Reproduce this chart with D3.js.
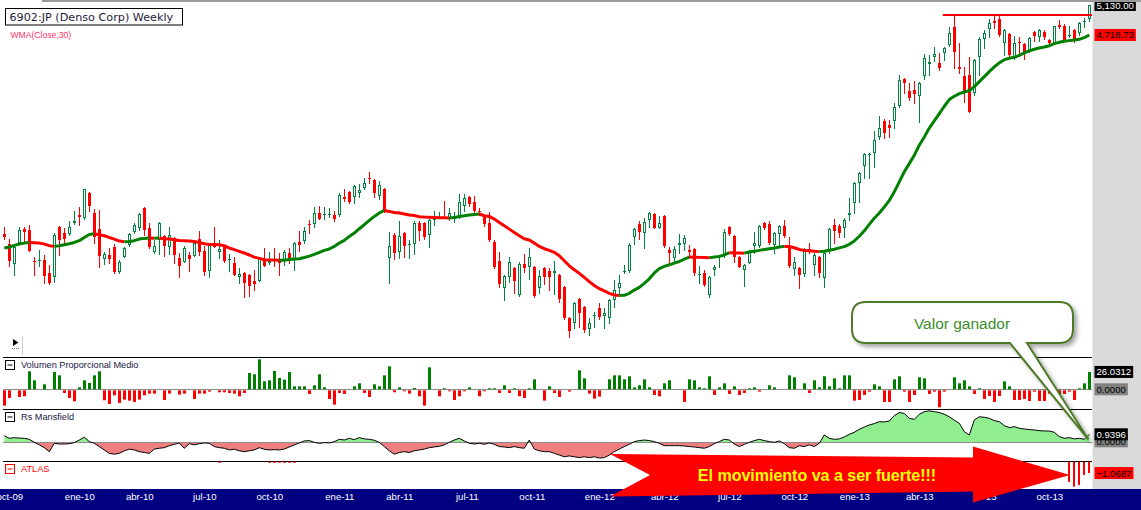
<!DOCTYPE html>
<html>
<head>
<meta charset="utf-8">
<script src="https://cdn.jsdelivr.net/npm/d3@7"></script>
<style>
  html, body { margin: 0; padding: 0; background: #fff; overflow: hidden; }
  svg { display: block; }
</style>
</head>
<body>
<script>
// DATA ––––––––––––––––––––––––––––––––––––––––––––––––––––––––––––––––

// weekly candles, one row per week from oct-09: [open, high, low, close]
var ohlc = [
  [2712,2765,2674,2689],[2637,2674,2480,2515],[2494,2630,2419,2616],[2645,2765,2640,2742],[2750,2765,2652,2727],
  [2742,2781,2585,2587],[2515,2544,2419,2508],[2515,2594,2480,2522],[2522,2558,2366,2412],[2433,2487,2360,2366],
  [2406,2719,2373,2704],[2765,2770,2558,2667],[2719,2757,2630,2674],[2712,2812,2704,2765],[2797,2891,2789,2812],
  [2859,2924,2781,2843],[2835,3074,2828,3074],[3040,3045,2891,2932],[2875,2907,2645,2689],[2750,2899,2473,2551],
  [2529,2580,2494,2565],[2558,2609,2501,2529],[2616,2637,2433,2439],[2439,2522,2433,2508],[2544,2616,2540,2609],
  [2630,2719,2623,2712],[2727,2797,2719,2781],[2757,2875,2742,2867],[2915,2924,2704,2742],[2757,2797,2609,2616],
  [2580,2667,2572,2623],[2667,2800,2565,2797],[2697,2704,2551,2623],[2616,2765,2565,2704],[2682,2689,2501,2558],
  [2536,2572,2406,2480],[2508,2623,2505,2609],[2558,2580,2446,2529],[2551,2652,2548,2645],[2674,2734,2558,2580],
  [2587,2623,2419,2439],[2446,2645,2406,2630],[2630,2765,2612,2616],[2580,2667,2536,2601],[2623,2630,2508,2515],
  [2522,2565,2446,2529],[2501,2544,2415,2419],[2406,2467,2366,2426],[2433,2436,2275,2366],[2419,2422,2281,2346],
  [2379,2453,2320,2360],[2379,2536,2375,2529],[2529,2609,2477,2480],[2501,2580,2494,2515],[2529,2609,2480,2515],
  [2529,2572,2419,2501],[2522,2594,2487,2580],[2572,2609,2501,2536],[2529,2648,2453,2645],[2652,2734,2587,2630],
  [2660,2765,2645,2734],[2789,2820,2719,2781],[2789,2924,2765,2875],[2875,2932,2825,2828],[2863,2924,2828,2867],
  [2863,2915,2843,2867],[2859,2891,2812,2828],[2859,3040,2851,3023],[3006,3074,2973,2990],[3048,3057,2957,2965],
  [3006,3108,2957,3099],[3040,3117,3006,3065],[3082,3170,3074,3126],[3170,3223,3126,3161],[3152,3155,3006,3040],
  [3014,3143,2990,3108],[3074,3077,2883,2891],[2536,2727,2366,2623],[2704,2719,2529,2572],[2580,2812,2536,2697],
  [2719,2727,2544,2623],[2634,2667,2536,2637],[2637,2812,2565,2797],[2797,2812,2667,2734],[2797,2804,2674,2689],
  [2704,2843,2616,2820],[2820,2891,2781,2835],[2839,2883,2835,2843],[2839,2973,2831,2835],[2835,2915,2820,2875],
  [2828,2883,2804,2851],[2843,3031,2835,2965],[2932,3031,2891,2998],[3006,3014,2932,2948],[2965,3014,2875,2891],
  [2887,2915,2859,2883],[2843,2851,2773,2789],[2797,2883,2660,2667],[2652,2667,2467,2473],[2515,2580,2340,2360],
  [2333,2419,2256,2412],[2406,2544,2373,2508],[2467,2473,2301,2379],[2288,2508,2282,2494],[2494,2565,2439,2467],
  [2473,2609,2393,2544],[2473,2480,2275,2282],[2333,2453,2301,2412],[2467,2473,2360,2406],[2446,2467,2320,2406],
  [2433,2515,2294,2446],[2419,2426,2244,2262],[2340,2346,2140,2146],[2146,2150,2036,2070],[2116,2243,2088,2237],
  [2262,2266,2093,2176],[2213,2216,2064,2076],[2082,2146,2047,2116],[2161,2182,2093,2164],[2207,2237,2140,2152],
  [2158,2207,2088,2176],[2146,2262,2116,2256],[2256,2386,2213,2320],[2333,2419,2294,2366],[2439,2487,2433,2443],
  [2446,2645,2439,2630],[2689,2757,2637,2750],[2789,2812,2674,2727],[2719,2835,2609,2804],[2820,2883,2765,2875],
  [2867,2870,2754,2757],[2757,2851,2754,2797],[2851,2855,2616,2623],[2594,2616,2501,2572],[2536,2623,2501,2601],
  [2630,2712,2572,2645],[2637,2704,2594,2682],[2594,2630,2544,2580],[2601,2609,2419,2433],[2422,2480,2366,2426],
  [2433,2453,2346,2353],[2288,2410,2275,2406],[2453,2487,2419,2473],[2548,2558,2473,2551],[2558,2750,2544,2727],
  [2765,2773,2704,2712],[2697,2700,2508,2544],[2544,2548,2470,2473],[2453,2490,2346,2487],[2501,2594,2498,2580],
  [2623,2727,2572,2645],[2623,2781,2616,2773],[2797,2804,2750,2757],[2789,2812,2637,2645],[2630,2722,2572,2719],
  [2712,2781,2616,2773],[2773,2820,2689,2697],[2623,2689,2473,2480],[2460,2544,2419,2508],[2467,2473,2333,2419],
  [2426,2604,2412,2601],[2601,2645,2572,2580],[2487,2572,2419,2558],[2544,2551,2406,2433],[2399,2580,2340,2572],
  [2594,2757,2572,2750],[2781,2828,2645,2734],[2773,2789,2689,2719],[2757,2835,2689,2820],[2859,2998,2820,2875],
  [2957,3130,2875,3126],[3126,3223,2965,3214],[3277,3398,3170,3388],[3384,3398,3170,3388],[3398,3612,3268,3523],
  [3552,3767,3533,3642],[3714,3735,3543,3592],[3673,3724,3552,3642],[3714,3905,3642,3862],[3873,4222,3862,4163],
  [4175,4187,4015,4129],[4038,4129,3938,3960],[4049,4152,3905,4004],[3982,4140,3704,4129],[4210,4476,4175,4427],
  [4353,4463,4222,4378],[4438,4564,4390,4476],[4366,4488,4281,4305],[4488,4564,4402,4551],[4589,4825,4576,4745],
  [4825,4989,4305,4501],[4317,4615,4245,4293],[4210,4317,3915,4027],[4222,4438,3805,3809],[4015,4414,3993,4402],
  [4438,4693,4222,4667],[4667,4785,4551,4745],[4798,4934,4693,4879],[4906,4989,4812,4879],[4934,4989,4706,4719],
  [4615,4798,4463,4785],[4732,4745,4438,4463],[4438,4706,4414,4615],[4628,4693,4451,4615],[4602,4615,4414,4501],
  [4526,4693,4501,4680],[4758,4772,4641,4706],[4693,4798,4641,4785],[4758,4785,4667,4693],[4654,4667,4602,4615],
  [4615,4842,4612,4839],[4852,4920,4812,4825],[4839,4866,4641,4654],[4712,4839,4693,4719],[4785,4798,4628,4654],
  [4745,4893,4719,4879],[4899,4948,4825,4906],[4934,5130,4906,5130]
];

// WMA(Close,30)
var wma = [
  2606,2613,2625,2635,2642,2647,2645,2642,2635,2623,2618,2623,2630,2637,2647,2660,2684,2706,2712,2704,
  2697,2684,2672,2657,2652,2654,2660,2672,2677,2680,2678,2679,2674,2673,2667,2662,2660,2657,2654,2647,
  2637,2632,2631,2630,2623,2606,2594,2582,2570,2556,2541,2532,2522,2521,2520,2518,2519,2524,2527,2529,
  2538,2548,2560,2575,2589,2599,2618,2642,2662,2692,2717,2750,2781,2815,2846,2873,2894,2886,2877,2873,
  2865,2857,2853,2843,2841,2840,2838,2836,2835,2833,2838,2846,2851,2857,2862,2865,2851,2846,2825,2799,
  2773,2747,2721,2697,2674,2665,2642,2618,2601,2589,2575,2551,2515,2480,2453,2428,2401,2373,2348,2327,
  2312,2297,2286,2283,2284,2297,2318,2335,2362,2392,2431,2460,2476,2487,2499,2510,2527,2541,2540,2539,
  2538,2537,2541,2546,2556,2572,2571,2570,2569,2577,2582,2589,2596,2601,2606,2613,2618,2617,2608,2596,
  2589,2587,2582,2580,2583,2590,2597,2607,2616,2633,2658,2693,2734,2783,2832,2873,2921,2976,3048,3134,
  3223,3297,3376,3471,3552,3641,3714,3791,3869,3941,3978,4008,4026,4041,4086,4144,4202,4261,4317,4366,
  4405,4422,4434,4459,4489,4514,4535,4551,4564,4580,4606,4624,4637,4645,4654,4663,4684,4718.73
];

// Volumen Proporcional Medio
var volume = [
  -23,-11.5,0,-10,-9,27,13.5,0,7.5,0,26,21,-4,-11.5,-16.5,3,13.5,9.5,21,27,
  -15,-20.5,-7.5,-19,-14,-15.5,-17.5,-14,-7.5,-5,-5,0,-14.5,-5,0,-6.5,-5,0,-13,-5,
  -5,-2,0,-3,-3,-4,-5,-9,-4,24.5,22.5,45,12,13.5,27.5,17,14.5,26,4.5,4.5,
  4.5,-5.5,6,22.5,3,-13,-21.5,-4,-5.5,0,4.5,9,-4,-10,7.5,4.5,21,34.5,-3,3,
  -1.5,-5,2,-9,-23,33,0,-9,1.5,-1.5,-14.5,-9,-1.5,3,0,-9,-1.5,1.5,1.5,-4,
  6,-4,1.5,-9,-11.5,1.5,15,0,-15.5,4.5,-4,-10,0,-2,0,28.5,16.5,-5,-12.5,-9.5,
  0,15,21,21,15,19.5,3,6,15,3,-7,-9,9,13.5,0,0,-17.5,15,13.5,3,
  1.5,19.5,-7,3,9,-5.5,4.5,-7,-4,1.5,3,-2,0,6,3,0,0,21,18,0,
  9,-4,13.5,3,19.5,4.5,16.5,1.5,21,21,-15.5,-14.5,-7,-2,7.5,4.5,-17.5,-17.5,15,19.5,
  -2,-17.5,-7,18,16.5,-5.5,-2,-25.5,-2,0,18,9,13.5,4.5,-5.5,1.5,-13,-8.5,-17.5,-8.5,
  12,4.5,-14.5,-14.5,-13,-16,-2,-16,-16,-5,-8,-7,-5.5,-2,-14.5,1.5,9,26.0312
];

// Rs Mansfield
var rsMansfield = [
  0.78,0.47,0.55,0.5,0.47,0.35,0,-0.3,-0.63,-1.1,-0.12,-0.2,-0.2,-0.16,-0.04,0.27,0.6,0.08,-0.12,-0.5,
  -0.9,-1.3,-1.4,-1.3,-1.0,-0.8,-0.9,-1.1,-1.2,-1.3,-0.8,-0.7,-0.63,-0.4,-0.24,-0.08,-0.7,-0.16,-0.3,-0.16,
  -0.08,-0.12,-0.5,-0.63,-0.7,-0.9,-0.82,-1.0,-1.1,-1.0,-0.9,-0.63,-0.82,-0.9,-0.86,-0.9,-0.8,-0.55,-0.3,-0.08,
  0.16,0.2,0,-0.12,-0.04,-0.08,0.08,0.35,0.27,0.47,0.31,0.55,0.4,0.35,0.24,0,-0.5,-1.0,-1.4,-1.2,
  -1.1,-1.2,-1.0,-0.9,-0.8,-0.63,-0.55,-0.47,-0.3,0,0.27,0.47,0.16,-0.12,-0.2,-0.12,-0.24,-0.08,-0.24,-0.5,
  -0.55,-0.63,-0.5,-0.63,-0.7,0.27,-0.8,-1.0,-1.1,-1.1,-1.3,-1.5,-1.7,-1.6,-1.7,-1.8,-1.7,-1.8,-1.7,-1.85,
  -1.8,-1.5,-1.1,-0.8,-0.5,-0.24,0.08,0.2,0.27,0.2,0.08,-0.12,-0.4,-0.4,-0.4,-0.4,-0.43,-0.5,-0.55,-0.63,
  -0.7,-0.5,-0.16,0.08,0.35,0.27,-0.2,-0.5,-0.24,0,0.2,0.35,0.2,0.08,0,0.16,-0.16,-0.63,-0.7,-0.4,
  -0.5,-0.3,-0.5,-0.12,0.86,0.47,0.35,0.4,0.63,0.94,1.18,1.53,1.8,2.04,2.2,2.43,2.4,2.5,3.14,3.5,
  3.4,2.82,2.7,3.3,3.6,3.7,3.6,3.5,3.3,3.0,2.6,2.24,1.25,0.86,2.63,3.0,2.94,2.82,2.55,2.43,
  1.96,1.73,1.84,1.65,1.57,1.5,1.45,1.37,1.33,1.33,1.18,0.67,0.47,0.55,0.4,0.47,0.35,0.9396
];

// ATLAS, only the weeks that print a bar: [week, value]
var atlas = [
  [43,-0.08],[53,-0.08],[54,-0.08],[55,-0.08],[56,-0.08],[57,-0.08],[58,-0.08],
  [213,-1.9],[214,-2.35],[215,-2.2],[216,-1.25],[217,-1.0687]
];

var resistance = {price: 4990, fromWeek: 187.7};

var tickLabels = ["oct-09","ene-10","abr-10","jul-10","oct-10","ene-11","abr-11","jul-11","oct-11",
                  "ene-12","abr-12","jul-12","oct-12","ene-13","abr-13","jul-13","oct-13"];
var tickWeeks  = [1,15,27,40,53,67,79,92.5,105.5,119,132,145,158,170,183,196,209];

// SETUP ––––––––––––––––––––––––––––––––––––––––––––––––––––––––––––––

var W = 1141, H = 510,
    plotRight = 1092,
    UP = "#00843f", DOWN = "#ff0000", MA_UP = "#008000",
    FONT = "'Liberation Sans', Arial, sans-serif";

var svg = d3.select("body").append("svg")
    .attr("width", W).attr("height", H)
    .style("font-family", FONT);

var defs = svg.append("defs");
defs.append("clipPath").attr("id", "clipMain")
  .append("rect").attr("x", 0).attr("y", 0).attr("width", plotRight).attr("height", 357);
defs.append("clipPath").attr("id", "clipRsUp")
  .append("rect").attr("x", 0).attr("y", 410).attr("width", plotRight);
defs.append("clipPath").attr("id", "clipRsDown")
  .append("rect").attr("x", 0).attr("width", plotRight).attr("height", 30);
var shadow = defs.append("filter").attr("id", "shadow")
    .attr("x", "-10%").attr("y", "-10%").attr("width", "130%").attr("height", "140%");
shadow.append("feDropShadow").attr("dx", 3).attr("dy", 3).attr("stdDeviation", 2)
    .attr("flood-color", "#000").attr("flood-opacity", 0.35);

var x = d3.scaleLinear().domain([0, ohlc.length - 1]).range([4.3, 1089.3]);
var yPrice = d3.scaleLog().domain([2000, 5300]).range([343, -6.7]);
var yVol = d3.scaleLinear().domain([-30, 45]).range([409.3, 359.3]);
var yRs = d3.scaleLinear().domain([-2.2, 3.9]).range([461, 409.15]);
var yAtlas = d3.scaleLinear().domain([-2.6, 0]).range([489.3, 461.7]);

// MAIN PANEL ––––––––––––––––––––––––––––––––––––––––––––––––––––––––––

var gMain = svg.append("g").attr("clip-path", "url(#clipMain)");

ohlc.forEach(function(d, i) {
  var o = d[0], h = d[1], l = d[2], c = d[3],
      up = c >= o,
      cx = Math.round(x(i)),
      top = Math.round(yPrice(Math.max(o, c))),
      bot = Math.round(yPrice(Math.min(o, c)));

  gMain.append("line")
    .attr("x1", cx + 0.5).attr("x2", cx + 0.5)
    .attr("y1", Math.round(yPrice(h))).attr("y2", Math.round(yPrice(l)) + 1)
    .attr("stroke", up ? UP : DOWN);

  if (up && bot - top >= 2) {
    gMain.append("rect")
      .attr("x", cx - 0.5).attr("y", top + 0.5)
      .attr("width", 2).attr("height", bot - top - 1)
      .attr("fill", "#fff").attr("stroke", UP);
  } else {
    gMain.append("rect")
      .attr("x", cx - 1).attr("y", top)
      .attr("width", 3).attr("height", Math.max(bot - top, 1))
      .attr("fill", up ? UP : DOWN);
  }
});

// WMA coloured by direction
var runs = [];
for (var i = 1; i < wma.length; i++) {
  var rising = wma[i] >= wma[i - 1];
  if (!runs.length || runs[runs.length - 1].up !== rising) runs.push({up: rising, pts: [i - 1]});
  runs[runs.length - 1].pts.push(i);
}
var maLine = d3.line().x(function(k) { return x(k); }).y(function(k) { return yPrice(wma[k]); });
runs.forEach(function(r) {
  gMain.append("path").datum(r.pts)
    .attr("fill", "none")
    .attr("stroke", r.up ? MA_UP : DOWN)
    .attr("stroke-width", 3)
    .attr("stroke-linejoin", "round")
    .attr("d", maLine);
});

// resistance
gMain.append("line")
  .attr("x1", x(resistance.fromWeek)).attr("x2", plotRight)
  .attr("y1", yPrice(resistance.price)).attr("y2", yPrice(resistance.price))
  .attr("stroke", "#ff0000").attr("stroke-width", 2);

// title box
svg.append("rect").attr("x", 5.5).attr("y", 8.5).attr("width", 177).attr("height", 16.5)
  .attr("fill", "#fff").attr("stroke", "#000");
svg.append("text").attr("x", 9.5).attr("y", 20.5)
  .style("font-family", "'DejaVu Sans', Verdana, sans-serif").style("font-size", "11.2px")
  .attr("fill", "#1c1c3c").text("6902:JP (Denso Corp) Weekly");
svg.append("text").attr("x", 10.5).attr("y", 38)
  .style("font-size", "8.6px").attr("fill", "#ff3366").text("WMA(Close,30)");

// little play glyph bottom-left
svg.append("path").attr("d", "M13,339 L13,346 L18.5,342.5 Z").attr("fill", "#000");
svg.append("line").attr("x1", 12).attr("x2", 20).attr("y1", 348.5).attr("y2", 348.5)
  .attr("stroke", "#777").attr("stroke-dasharray", "1,1");
svg.append("line").attr("x1", 22.5).attr("x2", 22.5).attr("y1", 336).attr("y2", 355)
  .attr("stroke", "#d0d0d0");

// PANELS ––––––––––––––––––––––––––––––––––––––––––––––––––––––––––––––

[357.5, 409.5, 461.5].forEach(function(y) {
  svg.append("line").attr("x1", 3).attr("x2", plotRight).attr("y1", y).attr("y2", y)
    .attr("stroke", "#000");
});

var panelHeader = function(y, label, color) {
  svg.append("rect").attr("x", 5.5).attr("y", y - 7.5).attr("width", 9).attr("height", 9)
    .attr("fill", "#fff").attr("stroke", color);
  svg.append("line").attr("x1", 7.5).attr("x2", 12.5).attr("y1", y - 3).attr("y2", y - 3)
    .attr("stroke", color);
  svg.append("text").attr("x", 21).attr("y", y)
    .style("font-size", "9.2px").attr("fill", color === "#000" ? "#1a1a48" : color).text(label);
};

// volume
svg.append("line").attr("x1", 3).attr("x2", plotRight)
  .attr("y1", Math.round(yVol(0)) + 0.5).attr("y2", Math.round(yVol(0)) + 0.5)
  .attr("stroke", "#8c8c8c");
svg.append("g").selectAll("rect").data(volume).join("rect")
  .attr("x", function(d, i) { return Math.round(x(i)) - 1; })
  .attr("width", 3)
  .attr("y", function(d) { return d >= 0 ? yVol(d) : yVol(0) + 1; })
  .attr("height", function(d) { return Math.abs(yVol(d) - yVol(0)); })
  .attr("fill", function(d) { return d >= 0 ? "#008000" : "#ff0000"; });
panelHeader(368, "Volumen Proporcional Medio", "#000");

// rs mansfield
var z = yRs(0);
d3.select("#clipRsUp rect").attr("height", z - 410);
d3.select("#clipRsDown rect").attr("y", z);
var rsArea = d3.area().x(function(d, i) { return x(i); }).y0(z).y1(function(d) { return yRs(d); });
svg.append("path").datum(rsMansfield).attr("d", rsArea).attr("fill", "#90ee90")
  .attr("clip-path", "url(#clipRsUp)");
svg.append("path").datum(rsMansfield).attr("d", rsArea).attr("fill", "#f08080")
  .attr("clip-path", "url(#clipRsDown)");
svg.append("line").attr("x1", 3).attr("x2", plotRight)
  .attr("y1", Math.round(z) + 0.5).attr("y2", Math.round(z) + 0.5).attr("stroke", "#8c8c8c");
svg.append("path").datum(rsMansfield)
  .attr("d", d3.line().x(function(d, i) { return x(i); }).y(function(d) { return yRs(d); }))
  .attr("fill", "none").attr("stroke", "#000").attr("stroke-width", 1);
panelHeader(420, "Rs Mansfield", "#000");

// atlas
svg.append("g").selectAll("rect").data(atlas).join("rect")
  .attr("x", function(d) { return Math.round(x(d[0])) - 1; })
  .attr("width", function(d) { return d[1] < -0.5 ? 2 : 3; })
  .attr("y", yAtlas(0))
  .attr("height", function(d) { return Math.max(1, yAtlas(d[1]) - yAtlas(0)); })
  .attr("fill", "#ff0000");
panelHeader(472, "ATLAS", "#ff0000");

// RIGHT COLUMN ––––––––––––––––––––––––––––––––––––––––––––––––––––––––

svg.append("rect").attr("x", plotRight + 0.5).attr("y", 0).attr("width", W - plotRight)
  .attr("height", 489).attr("fill", "#d9d9d9");

var valueLabel = function(yc, txt, bg, fg) {
  var g = svg.append("g");
  var r = g.append("rect").attr("x", 1094.5).attr("y", yc - 6).attr("height", 12).attr("fill", bg);
  var t = g.append("text").attr("x", 1096.5).attr("y", yc + 3.5)
    .style("font-size", "9.6px").attr("fill", fg).text(txt);
  r.attr("width", t.node().getComputedTextLength() + 4);
};
var fmt = d3.format(",.2f");
valueLabel(yPrice(ohlc[ohlc.length - 1][3]), fmt(ohlc[ohlc.length - 1][3]), "#000", "#fff");
valueLabel(yPrice(wma[wma.length - 1]), fmt(wma[wma.length - 1]), "#ff0000", "#000");
valueLabel(yVol(volume[volume.length - 1]), d3.format(".4f")(volume[volume.length - 1]), "#000", "#fff");
valueLabel(yVol(0), "0.0000", "#808080", "#000");
valueLabel(yRs(0) - 1, "0.0000", "#808080", "#000");
valueLabel(yRs(rsMansfield[rsMansfield.length - 1]), d3.format(".4f")(rsMansfield[rsMansfield.length - 1]), "#000", "#fff");
valueLabel(yAtlas(atlas[atlas.length - 1][1]), d3.format(".4f")(atlas[atlas.length - 1][1]), "#ff0000", "#000");

// window border line at the very top, drawn over the price tag as in the capture
svg.append("rect").attr("x", 42).attr("y", 0).attr("width", W - 42).attr("height", 2)
  .attr("fill", "#9a9a9a");

// TIME AXIS –––––––––––––––––––––––––––––––––––––––––––––––––––––––––––

svg.append("rect").attr("x", 0).attr("y", 489).attr("width", W).attr("height", H - 489)
  .attr("fill", "#000080");
var gAxis = svg.append("g").attr("transform", "translate(0,489)")
  .call(d3.axisBottom(x).tickValues(tickWeeks)
    .tickFormat(function(d, i) { return tickLabels[i]; })
    .tickSize(0).tickPadding(4));
gAxis.select(".domain").remove();
gAxis.attr("font-family", FONT).attr("font-size", 9.6);
gAxis.selectAll("text").attr("fill", "#fff");

// ANNOTATIONS –––––––––––––––––––––––––––––––––––––––––––––––––––––––––

svg.append("polygon")
  .attr("points", "610,454 973,457.5 973,446.5 1070,475 973,502.5 973,491.5 610,496.5 650,475")
  .attr("fill", "#ff0000");
svg.append("text").attr("x", 817).attr("y", 480.5).attr("text-anchor", "middle")
  .style("font-size", "16px").style("font-weight", "bold").attr("fill", "#ffff00")
  .text("El movimiento va a ser fuerte!!!");

var tip = [x(ohlc.length - 1) - 1, yRs(0.35)],
    bx0 = 852, by0 = 302, bx1 = 1073, by1 = 343, r = 14;
var callout = "M" + (bx0 + r) + "," + by0 +
  " H" + (bx1 - r) + " Q" + bx1 + "," + by0 + " " + bx1 + "," + (by0 + r) +
  " V" + (by1 - r) + " Q" + bx1 + "," + by1 + " " + (bx1 - r) + "," + by1 +
  " H1027 L" + tip[0] + "," + tip[1] + " L1010," + by1 +
  " H" + (bx0 + r) + " Q" + bx0 + "," + by1 + " " + bx0 + "," + (by1 - r) +
  " V" + (by0 + r) + " Q" + bx0 + "," + by0 + " " + (bx0 + r) + "," + by0 + " Z";
svg.append("path").attr("d", callout)
  .attr("fill", "#fff").attr("stroke", "#4e7a27").attr("stroke-width", 2)
  .attr("filter", "url(#shadow)");
svg.append("text").attr("x", 962).attr("y", 328.5).attr("text-anchor", "middle")
  .style("font-size", "15.5px").attr("fill", "#3b8e2e").text("Valor ganador");
</script>
</body>
</html>
